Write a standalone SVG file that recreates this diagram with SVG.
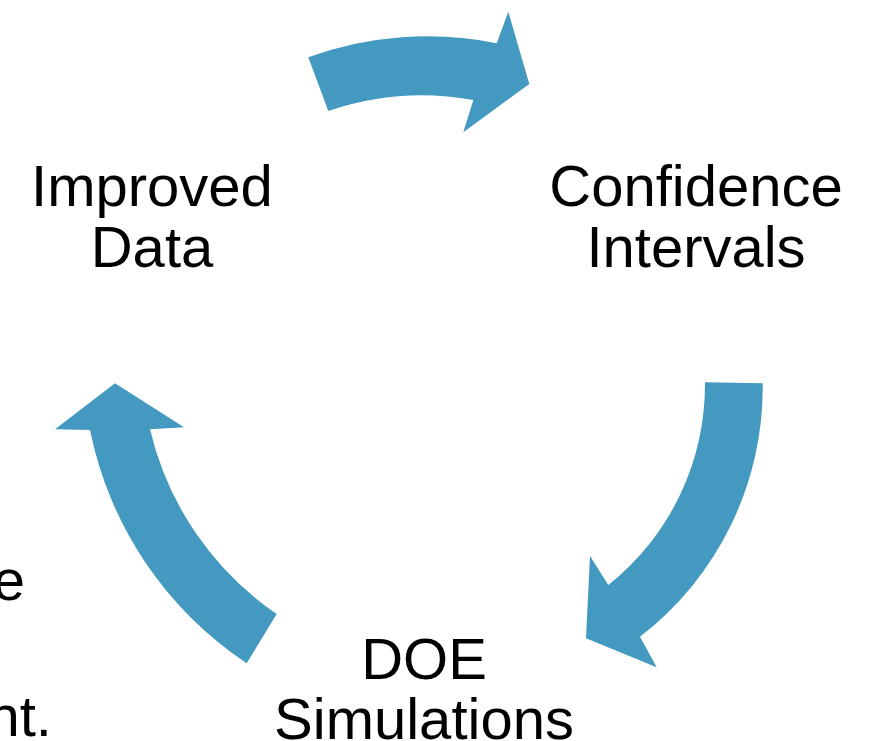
<svg xmlns="http://www.w3.org/2000/svg" width="880" height="741" viewBox="0 0 880 741">
  <style>
    .lbl { font-family: "Liberation Sans", Arial, sans-serif; font-size: 58px; fill: #000; }
    .mid { text-anchor: middle; }
    .end { text-anchor: end; }
    .arrow { fill: #4499c1; stroke: none; }
  </style>
  <rect width="880" height="741" fill="#ffffff"/>

  <!-- curved block arrows linking the cycle steps -->
  <g id="connectors">
    <path id="arrow-data-to-ci" class="arrow"
      d="M 308.3 57.3 A 349 349 0 0 1 496.7 43.3 L 508.3 11.7 L 529.3 84 L 463.3 132.3 L 473.3 100 A 290 290 0 0 0 328.3 111 Z"/>
    <path id="arrow-ci-to-doe" class="arrow"
      d="M 762.7 383.3 A 315 315 0 0 1 640 636.7 L 656.7 667.3 L 586 638.3 L 590 556 L 608.3 585 A 256 256 0 0 0 705 382.3 Z"/>
    <path id="arrow-doe-to-data" class="arrow"
      d="M 246.7 663.3 A 368 368 0 0 1 90 430 L 55 429.3 L 115 383.3 L 184 427.3 L 150 429.3 A 310 310 0 0 0 276.7 614 Z"/>
  </g>

  <g id="node-improved-data">
    <text class="lbl mid" x="152" y="206">Improved</text>
    <text class="lbl mid" x="152" y="267">Data</text>
  </g>

  <g id="node-confidence-intervals">
    <text class="lbl mid" x="696" y="206">Confidence</text>
    <text class="lbl mid" x="696" y="267">Intervals</text>
  </g>

  <g id="node-doe-simulations">
    <text class="lbl mid" x="424" y="679">DOE</text>
    <text class="lbl mid" x="424" y="739">Simulations</text>
  </g>

  <g id="node-left">
    <text class="lbl end" x="25" y="600">e</text>
    <text class="lbl end" x="52" y="736">nt.</text>
  </g>
</svg>
